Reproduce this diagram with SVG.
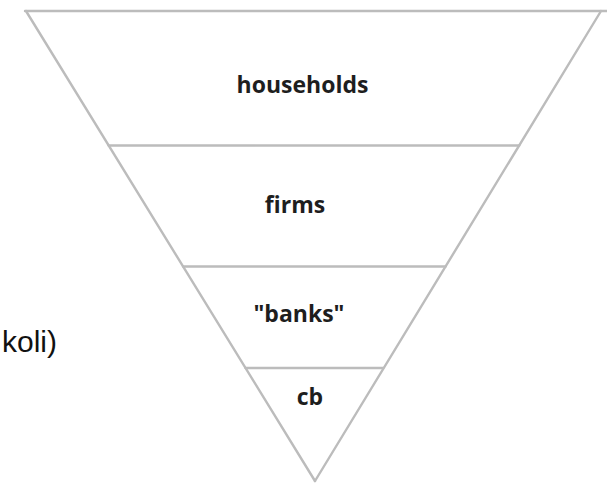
<svg xmlns="http://www.w3.org/2000/svg" width="607" height="486" viewBox="0 0 607 486">
  <style>
    .edge { stroke: #bcbcbc; stroke-width: 2.4; fill: none; stroke-linecap: round; }
    .label { font-family: "Open Sans", "DejaVu Sans", sans-serif; font-weight: bold; font-size: 23px; fill: #1e1e1e; text-anchor: middle; }
    .side { font-family: "Liberation Sans", Arial, sans-serif; font-size: 30px; fill: #111; text-anchor: end; }
  </style>
  <rect width="607" height="486" fill="#ffffff"/>

  <!-- outline of the inverted pyramid and its dividing lines -->
  <g id="connectors">
    <line class="edge" x1="25" y1="11" x2="607" y2="11"/>
    <line class="edge" x1="26" y1="11" x2="315" y2="481"/>
    <line class="edge" x1="601" y1="11" x2="315" y2="481"/>
    <line class="edge" x1="108.7" y1="145.5" x2="519.2" y2="145.5"/>
    <line class="edge" x1="183.1" y1="266.5" x2="445.5" y2="266.5"/>
    <line class="edge" x1="245.5" y1="368" x2="383.1" y2="368"/>
  </g>

  <g id="households">
    <text class="label" x="302.5" y="93">households</text>
  </g>
  <g id="firms">
    <text class="label" x="295" y="213">firms</text>
  </g>
  <g id="banks">
    <text class="label" x="299" y="322">"banks"</text>
  </g>
  <g id="cb">
    <text class="label" x="310" y="405">cb</text>
  </g>

  <!-- trailing fragment of a side caption, running off the left edge -->
  <text class="side" x="57" y="352">koli)</text>
</svg>
